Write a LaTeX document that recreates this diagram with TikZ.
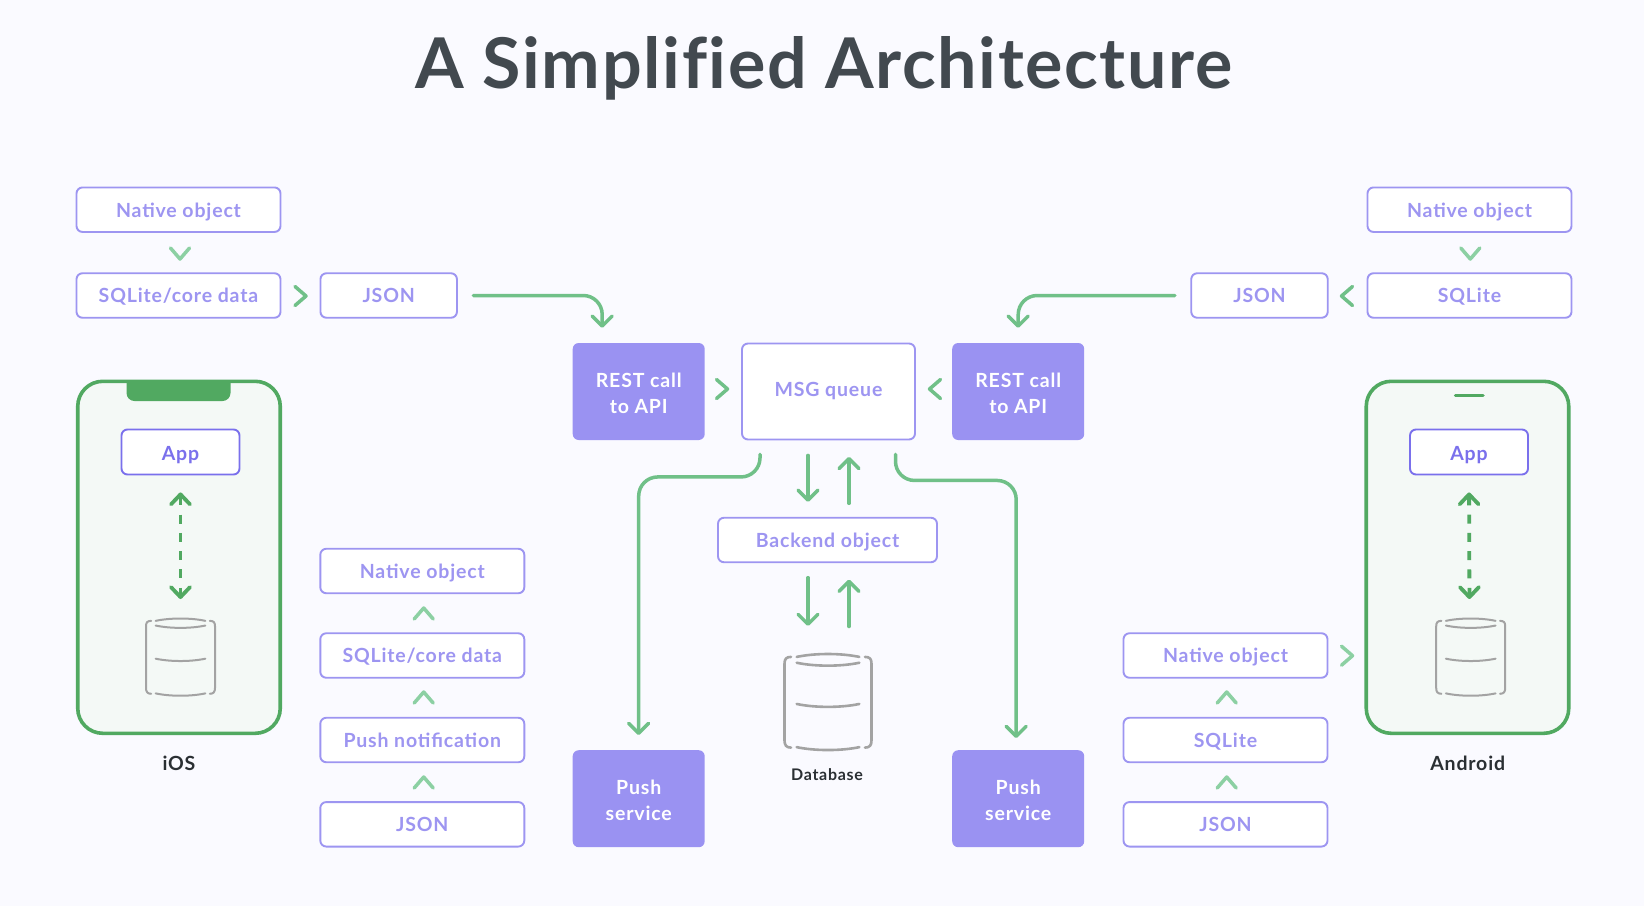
\documentclass[tikz,border=0pt]{standalone}
\usepackage{fontspec}
\usetikzlibrary{arrows.meta,calc}
\setmainfont{Lato}
\newfontfamily\boxfont[LetterSpace=4.3,BoldFont={Lato Bold}]{Lato}
\newfontfamily\titlefont[LetterSpace=2.3]{Lato}
\definecolor{pagebg}{HTML}{FAFAFF}
\definecolor{lilac}{HTML}{9D95F1}
\definecolor{lilacfill}{HTML}{9A92F2}
\definecolor{deeplilac}{HTML}{7A70EC}
\definecolor{flowgreen}{HTML}{70C088}
\definecolor{chevlight}{HTML}{8CD0A3}
\definecolor{phonegreen}{HTML}{51A961}
\definecolor{phonefill}{HTML}{F4F9F6}
\definecolor{dbgrey}{HTML}{A3A3A3}
\definecolor{titleink}{HTML}{42494F}
\definecolor{labelink}{HTML}{2A2F33}
\tikzset{
  x=1pt,y=-1pt,
  lbox/.style={draw=lilac,line width=1.9pt,fill=white,rounded corners=6pt,inner sep=0pt,
    text height=15pt,text depth=0.4pt,
    text=lilac,font=\boxfont\bfseries\fontsize{19.5}{24}\selectfont,align=center},
  wbox/.style={lbox,minimum width=204pt,minimum height=44.5pt},
  jbox/.style={lbox,minimum width=136.5pt,minimum height=44.5pt},
  solidbox/.style={fill=lilacfill,rounded corners=6pt,inner sep=0pt,minimum width=132pt,minimum height=97pt,
    text height=43pt,text depth=0pt,
    text=white,font=\boxfont\bfseries\fontsize{19.5}{26}\selectfont,align=center},
  appbox/.style={lbox,text height=16pt,text depth=0pt,draw=deeplilac,text=deeplilac,minimum width=118pt,minimum height=45pt},
  phone/.style={draw=phonegreen,line width=3.6pt,fill=phonefill,rounded corners=25pt,inner sep=0pt,minimum width=202.5pt,minimum height=352pt},
  flow/.style={draw=flowgreen,line width=3.5pt,line cap=round,rounded corners=19pt,-{Straight Barb[length=10pt,width=20pt,round]}},
  plainflow/.style={draw=flowgreen,line width=3.5pt,line cap=round,-{Straight Barb[length=10pt,width=20pt,round]}},
  chev/.style={draw=flowgreen,line width=3.5pt,line cap=round,line join=round},
  chevl/.style={chev,draw=chevlight},
  dashflow/.style={draw=phonegreen,line width=3.8pt,dash pattern=on 9pt off 9.3pt,
    {Straight Barb[length=10pt,width=19pt,round]}-{Straight Barb[length=10pt,width=19pt,round]}},
  caption/.style={text=labelink,font=\boxfont\bfseries\fontsize{19.5}{24}\selectfont,inner sep=0pt},
}
\newcommand{\chevdown}[2][chevl]{\draw[#1] ($(#2)+(-9.5,-5.5)$) -- ($(#2)+(0,5.5)$) -- ($(#2)+(9.5,-5.5)$);}
\newcommand{\chevup}[2][chevl]{\draw[#1] ($(#2)+(-9.5,5.5)$) -- ($(#2)+(0,-5.5)$) -- ($(#2)+(9.5,5.5)$);}
\newcommand{\chevright}[2][chev]{\draw[#1] ($(#2)+(-5.5,-9.5)$) -- ($(#2)+(5.5,0)$) -- ($(#2)+(-5.5,9.5)$);}
\newcommand{\chevleft}[2][chev]{\draw[#1] ($(#2)+(5.5,-9.5)$) -- ($(#2)+(-5.5,0)$) -- ($(#2)+(5.5,9.5)$);}
% cylinder icon in a unit box: #1 centre, #2 half width, #3 half height, #4 line width
\newcommand{\dbicon}[4]{%
  \begin{scope}[shift={(#1)},x=#2pt,y=-#3pt,draw=dbgrey,line width=#4pt,line cap=round]
    \draw (-.85,-.94) .. controls (-.96,-.94) and (-1,-.9) .. (-1,-.8) -- (-1,.78) .. controls (-1,.88) and (-.96,.93) .. (-.85,.93);
    \draw (.85,-.94) .. controls (.96,-.94) and (1,-.9) .. (1,-.8) -- (1,.78) .. controls (1,.88) and (.96,.93) .. (.85,.93);
    \draw (-.72,-.94) .. controls (-.3,-1.02) and (.3,-1.02) .. (.72,-.94);
    \draw (-.72,-.82) .. controls (-.3,-.74) and (.3,-.74) .. (.72,-.82);
    \draw (-.72,.03) .. controls (-.3,.11) and (.3,.11) .. (.72,.03);
    \draw (-.72,.92) .. controls (-.3,1) and (.3,1) .. (.72,.92);
  \end{scope}}
\begin{document}
\begin{tikzpicture}
\useasboundingbox (0,0) rectangle (1644,906);
\fill[pagebg] (0,0) rectangle (1644,906);
\node[text=titleink,font=\titlefont\bfseries\fontsize{70}{80}\selectfont,inner sep=0pt] (title) at (824,68) {A Simplif\/ied Architecture};

% left top
\node[wbox] (nl) at (178.5,209.7) {Native object};
\node[wbox] (sl) at (178.5,295.5) {SQLite/core data};
\node[jbox] (jl) at (388.7,295.5) {JSON};
% right top
\node[wbox] (nr) at (1469.5,209.7) {Native object};
\node[wbox] (sr) at (1469.5,295.5) {SQLite};
\node[jbox] (jr) at (1259.5,295.5) {JSON};
% phones
\node[phone] (pl) at (179,557.3) {};
\node[phone] (pr) at (1467.5,557.3) {};
\fill[phonegreen] (126.5,381) -- (230.5,381) -- (230.5,393) arc[start angle=0,end angle=90,x radius=8pt,y radius=-8pt] -- (134.5,401) arc[start angle=90,end angle=180,x radius=8pt,y radius=-8pt] -- cycle;
\draw[phonegreen,line width=3.5pt,line cap=round] (1455.5,395.7) -- (1483,395.7);
\node[appbox] (al) at (180.5,452) {App};
\node[appbox] (ar) at (1469,452) {App};
\coordinate (dl) at (180.5,657.5);
\coordinate (dr) at (1470.7,657.5);
\dbicon{dl}{34.5}{39}{2}
\dbicon{dr}{34.5}{39}{2}
\coordinate (dlt) at (180.5,618);
\coordinate (drt) at (1469.5,618);
\draw[dashflow,shorten <=17pt,shorten >=19pt] (al.south) -- (dlt);
\draw[dashflow,shorten <=17pt,shorten >=19pt] (ar.south) -- (drt);
\node[caption] (ios) at (179,763) {iOS};
\node[caption] (android) at (1467.7,763) {Android};
% centre
\node[solidbox] (rl) at (638.7,391.5) {REST call\\to API};
\node[solidbox] (rr) at (1018.2,391.5) {REST call\\to API};
\node[lbox,text height=10.5pt,text depth=0pt,minimum width=173pt,minimum height=96pt] (msg) at (828.5,391.5) {MSG queue};
\node[lbox,minimum width=219pt,minimum height=44.5pt] (be) at (827.5,540) {Backend object};
\coordinate (dbc) at (828,702.5);
\dbicon{dbc}{43.5}{48.5}{2.6}
\coordinate (dbt) at (828,654);
\node[caption,font=\boxfont\bfseries\fontsize{16}{20}\selectfont] (dbl) at (827,775) {Database};
\node[solidbox] (pl2) at (638.7,798.7) {Push\\service};
\node[solidbox] (pr2) at (1018.2,798.7) {Push\\service};
% left stack
\node[wbox] (a1) at (422.3,571) {Native object};
\node[wbox] (a2) at (422.3,655.5) {SQLite/core data};
\node[wbox] (a3) at (422.3,740) {Push notification};
\node[wbox] (a4) at (422.3,824.3) {JSON};
% right stack
\node[wbox] (b1) at (1225.5,655.5) {Native object};
\node[wbox] (b2) at (1225.5,740) {SQLite};
\node[wbox] (b3) at (1225.5,824.3) {JSON};

% chevrons
\coordinate (c1) at (180,253.5); \chevdown{c1}
\coordinate (c2) at (1470.3,253.5); \chevdown{c2}
\coordinate (c3) at (300.5,296); \chevright{c3}
\coordinate (c4) at (1347,296); \chevleft{c4}
\coordinate (c5) at (722,389); \chevright{c5}
\coordinate (c6) at (935,389); \chevleft{c6}
\coordinate (c7) at (423.7,613.5); \chevup{c7}
\coordinate (c8) at (423.7,697.5); \chevup{c8}
\coordinate (c9) at (423.7,782.5); \chevup{c9}
\coordinate (c10) at (1226.7,697.5); \chevup{c10}
\coordinate (c11) at (1226.7,782.5); \chevup{c11}
\coordinate (c12) at (1347,655.7); \chevright[chevl]{c12}

% flows
\draw[flow,shorten <=15.5pt,shorten >=15pt] (jl.east) -| ($(rl.north)+(-36.5,0)$);
\draw[flow,shorten <=15.5pt,shorten >=15pt] (jr.west) -| (rr.north);
\coordinate (ms1) at ($(msg.south)+(-68.5,0)$);
\coordinate (ms2) at ($(msg.south)+(67,0)$);
\draw[flow,shorten <=14pt,shorten >=15pt] (ms1) |- ($(ms1)+(-60,36.5)$) -| (pl2.north);
\draw[flow,shorten <=14pt,shorten >=12pt] (ms2) |- ($(ms2)+(60,40)$) -| ($(pr2.north)+(-2,0)$);
\draw[plainflow,shorten <=15pt,shorten >=15pt] ($(msg.south)+(-20.5,0)$) -- ($(be.north)+(-19.5,0)$);
\draw[plainflow,shorten <=13.5pt,shorten >=16.5pt] ($(be.north)+(21.5,0)$) -- ($(msg.south)+(20.5,0)$);
\draw[plainflow,shorten <=14.5pt,shorten >=28pt] ($(be.south)+(-19.5,0)$) -- ($(dbt)+(-20,0)$);
\draw[plainflow,shorten <=27.5pt,shorten >=16.5pt] ($(dbt)+(21,0)$) -- ($(be.south)+(21.5,0)$);
\end{tikzpicture}
\end{document}
